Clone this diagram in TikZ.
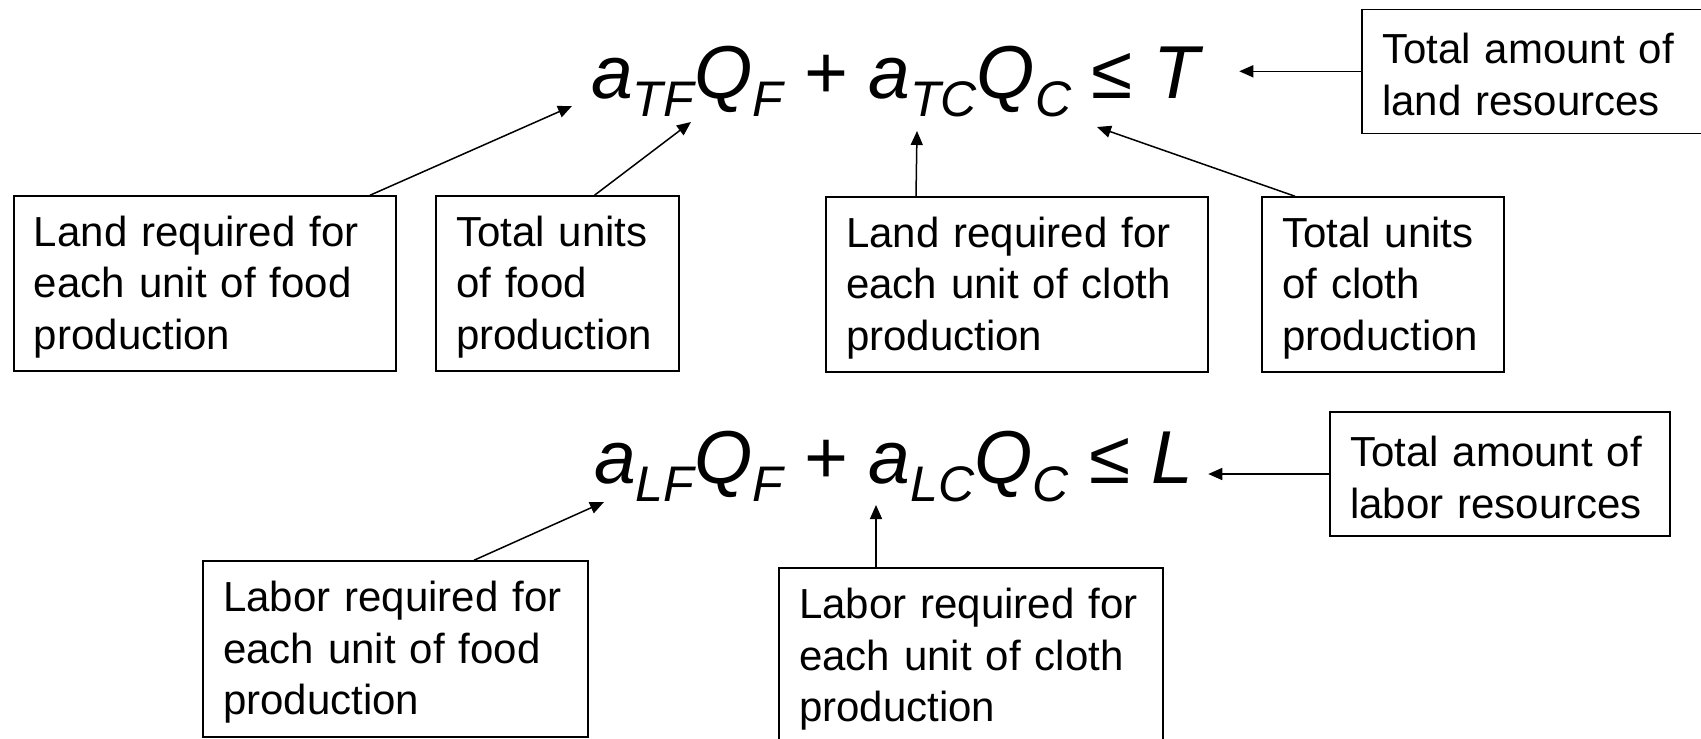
\documentclass[tikz,border=0pt]{standalone}
\usepackage{fontspec}
\setmainfont{Liberation Sans}
\usetikzlibrary{arrows.meta}
\newcommand{\lo}[1]{\raisebox{-18pt}{\fontsize{50}{50}\selectfont #1}}
\begin{document}
\begin{tikzpicture}[x=1pt,y=-1pt,
    infobox/.style={draw, line width=1.5pt, inner xsep=20pt, inner ysep=0pt, align=left,
        font=\fontsize{42}{51.5}\selectfont, execute at begin node={\rule{0pt}{37pt}}},
    eqn/.style={inner sep=0pt, font=\fontsize{75}{75}\selectfont\itshape},
    pointer/.style={-{Triangle[length=14pt,width=12pt]}, line width=1.5pt}]
    \useasboundingbox (0,0) rectangle (1701,739);
    % Kendala lahan
    \node[eqn, anchor=base west] (landeq) at (591,98) {a\lo{TF}Q\lo{F} + a\lo{TC}Q\lo{C} ≤ T};
    \node[infobox, text width=342pt, minimum height=175pt] (landfood) at (205,283.5)
        {Land required for\\each unit of food\\production};
    \node[infobox, text width=203pt, minimum height=175pt] (unitsfood) at (557.5,283.5)
        {Total units\\of food\\production};
    \node[infobox, text width=342pt, minimum height=175pt] (landcloth) at (1017,284.5)
        {Land required for\\each unit of cloth\\production};
    \node[infobox, text width=202pt, minimum height=175pt] (unitscloth) at (1383,284.5)
        {Total units\\of cloth\\production};
    \node[infobox, text width=320pt, minimum height=124pt] (landtotal) at (1542,71.3)
        {Total amount of\\land resources};
    \coordinate (aTF) at (572,106);
    \coordinate (qF) at (691,122);
    \coordinate (aTC) at (917,131);
    \coordinate (qC) at (1097,127);
    \draw[pointer] ([xshift=165pt]landfood.north) -- (aTF);
    \draw[pointer] ([xshift=37pt]unitsfood.north) -- (qF);
    \draw[pointer] ([xshift=-101pt]landcloth.north) -- (aTC);
    \draw[pointer] ([xshift=-88pt]unitscloth.north) -- (qC);
    \draw[pointer] (landtotal.west) -- ([xshift=-122pt]landtotal.west);
    % Kendala tenaga kerja
    \node[eqn, anchor=base west] (laboreq) at (594,483) {a\lo{LF}Q\lo{F} + a\lo{LC}Q\lo{C} ≤ L};
    \node[infobox, text width=345pt, minimum height=176pt] (laborfood) at (395.5,649)
        {Labor required for\\each unit of food\\production};
    \node[infobox, text width=344pt, minimum height=176pt] (laborcloth) at (971,656)
        {Labor required for\\each unit of cloth\\production};
    \node[infobox, text width=300pt, minimum height=124pt] (labortotal) at (1500,474)
        {Total amount of\\labor resources};
    \coordinate (aLF) at (604,502);
    \coordinate (aLC) at (876,505);
    \draw[pointer] ([xshift=78.5pt]laborfood.north) -- (aLF);
    \draw[pointer] ([xshift=-95pt]laborcloth.north) -- (aLC);
    \draw[pointer] (labortotal.west) -- ([xshift=-121pt]labortotal.west);
\end{tikzpicture}
\end{document}
